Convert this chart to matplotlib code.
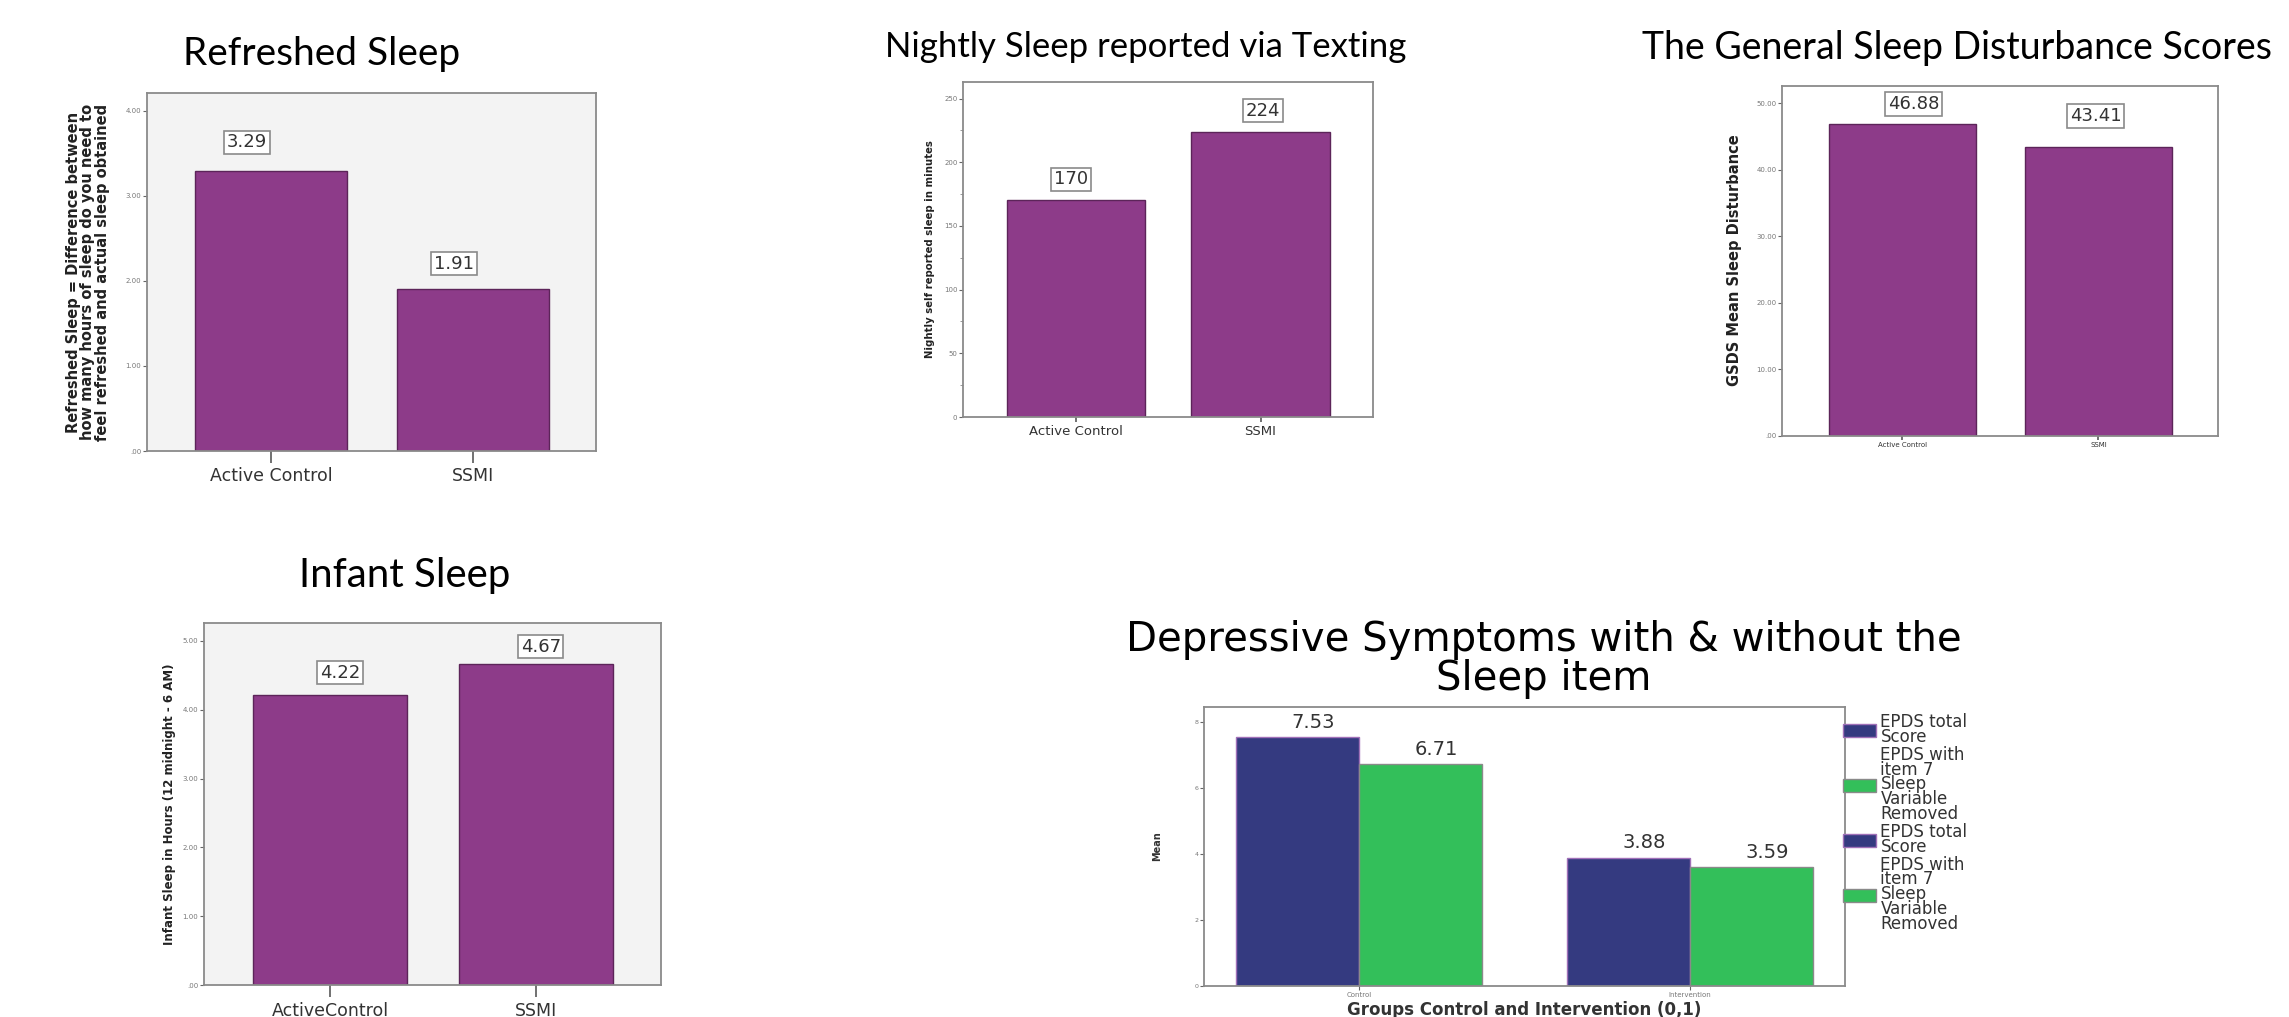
import numpy as np
import matplotlib
matplotlib.use("Agg")
import matplotlib.pyplot as plt
from matplotlib.patches import Patch

W, H, DPI = 2289, 1017, 100

# group means per outcome
groups = ["Active Control", "SSMI"]
infant_groups = ["ActiveControl", "SSMI"]
refreshed_sleep = [3.29, 1.91]
texted_sleep_min = [170, 224]
gsds_mean = [46.88, 43.41]
infant_sleep_hrs = [4.22, 4.67]

epds_groups = ["Control", "Intervention"]
epds_total = [7.53, 3.88]
epds_no_item7 = [6.71, 3.59]
epds_names = ["EPDS total\nScore", "EPDS with\nitem 7\nSleep\nVariable\nRemoved"]

PURPLE = "#8d3b89"
PURPLE_EDGE = "#5c2459"
NAVY = "#343a80"
GREEN = "#33bf5a"
FRAME = "#8a8a8a"
PANEL = "#f3f3f3"
TITLE_FONT = ["Lato", "DejaVu Sans"]

fig = plt.figure(figsize=(W / DPI, H / DPI), dpi=DPI)


def axes_px(x0, y0, x1, y1):
    # pixel box measured from the top-left corner
    return fig.add_axes([x0 / W, 1 - y1 / H, (x1 - x0) / W, (y1 - y0) / H])


def text_px(x, y, s, **kw):
    return fig.text(x / W, 1 - y / H, s, **kw)


def spss_fmt(t):
    s = f"{t:.2f}"
    return s[1:] if s.startswith("0") else s


def frame(ax, bg):
    ax.set_facecolor(bg)
    for sp in ax.spines.values():
        sp.set_color(FRAME)
        sp.set_linewidth(1.3)


def purple_bars(ax, cats, vals, top, yticks, ytick_fmt, val_fmt, bg,
                xfs, xlen, xpad, offsets):
    frame(ax, bg)
    x = np.arange(len(cats))
    ax.bar(x, vals, width=0.75, color=PURPLE, edgecolor=PURPLE_EDGE, linewidth=1)
    ax.set_xlim(-0.614, 1.61)
    ax.set_ylim(0, top)
    ax.set_yticks(yticks)
    ax.set_yticklabels([ytick_fmt(t) for t in yticks])
    ax.set_xticks(x)
    ax.set_xticklabels(cats)
    ax.tick_params(axis="y", length=3, width=0.8, color="#666",
                   labelcolor="#777", labelsize=5, pad=1)
    ax.tick_params(axis="x", length=xlen, width=1.3, color="#666",
                   labelcolor="#333", labelsize=xfs, pad=xpad)
    for xi, v, (dx, dy) in zip(x, vals, offsets):
        ax.annotate(val_fmt.format(v), xy=(xi, v), xytext=(dx, dy),
                    textcoords="offset pixels", ha="center", va="center",
                    fontsize=13, color="#333",
                    bbox=dict(boxstyle="square,pad=0.15", fc="white",
                              ec=FRAME, lw=1.2))


# Refreshed sleep
ax1 = axes_px(147, 93, 596, 451)
purple_bars(ax1, groups, refreshed_sleep, 4.21, [0, 1, 2, 3, 4], spss_fmt,
            "{:.2f}", PANEL, 12.5, 8.6, 3, [(-24, 29), (-19, 25)])
text_px(322, 54, "Refreshed Sleep", ha="center", va="center",
        fontsize=28, family=TITLE_FONT)
text_px(88, 272, "Refreshed Sleep = Difference between\n"
        "how many hours of sleep do you need to\n"
        "feel refreshed and actual sleep obtained",
        rotation=90, ha="center", va="center", multialignment="center",
        fontsize=10.5, fontweight="bold", linespacing=0.95, color="#222")

# Nightly sleep by text message
ax2 = axes_px(963, 82, 1373, 417)
purple_bars(ax2, groups, texted_sleep_min, 263, list(range(0, 251, 50)),
            lambda t: str(int(t)), "{:.0f}", "white", 9.5, 3.6, 2.5,
            [(-5, 21), (2, 21)])
ax2.set_yticks(list(range(25, 251, 50)), minor=True)
ax2.tick_params(axis="y", which="minor", length=2, width=0.6, color="#888")
text_px(1146, 47, "Nightly Sleep reported via Texting", ha="center",
        va="center", fontsize=25, family=TITLE_FONT)
text_px(930, 249, "Nightly self reported sleep in minutes", rotation=90,
        ha="center", va="center", fontsize=7.3, fontweight="bold", color="#222")

# GSDS
ax3 = axes_px(1782, 86, 2218, 436)
purple_bars(ax3, groups, gsds_mean, 52.6, list(range(0, 51, 10)), spss_fmt,
            "{:.2f}", "white", 5, 3, 1.5, [(11, 20), (-3, 31)])
text_px(1642, 48, "The General Sleep Disturbance Scores", ha="left",
        va="center", fontsize=27, family=TITLE_FONT)
text_px(1735, 260, "GSDS Mean Sleep Disturbance", rotation=90, ha="center",
        va="center", fontsize=10.5, fontweight="bold", color="#222")

# Infant sleep
ax4 = axes_px(204, 623, 661, 985)
purple_bars(ax4, infant_groups, infant_sleep_hrs, 5.26, [0, 1, 2, 3, 4, 5],
            spss_fmt, "{:.2f}", PANEL, 12.5, 8.6, 3.6, [(10, 22), (5, 17)])
text_px(405, 576, "Infant Sleep", ha="center", va="center", fontsize=29,
        family=TITLE_FONT)
text_px(170, 804, "Infant Sleep in Hours (12 midnight - 6 AM)", rotation=90,
        ha="center", va="center", fontsize=8.5, fontweight="bold", color="#222")

# EPDS with and without the sleep item
ax5 = axes_px(1204, 707, 1845, 986)
frame(ax5, "white")
x = np.arange(len(epds_groups))
bw = 0.372
b1 = ax5.bar(x - bw / 2, epds_total, bw, color=NAVY, edgecolor="#a070b8",
             linewidth=1)
b2 = ax5.bar(x + bw / 2, epds_no_item7, bw, color=GREEN, edgecolor=FRAME,
             linewidth=1)
ax5.set_xlim(-0.468, 1.468)
ax5.set_ylim(0, 8.45)
ax5.set_yticks([0, 2, 4, 6, 8])
ax5.set_xticks(x)
ax5.set_xticklabels(epds_groups)
ax5.tick_params(axis="y", length=3, width=0.8, color="#666",
                labelcolor="#777", labelsize=4.5, pad=1)
ax5.tick_params(axis="x", length=3, width=0.8, color="#666",
                labelcolor="#777", labelsize=5, pad=1)
for bars, vals in ((b1, epds_total), (b2, epds_no_item7)):
    for r, v in zip(bars, vals):
        ax5.annotate(f"{v:.2f}", xy=(r.get_x() + r.get_width() / 2, v),
                     xytext=(16, 15), textcoords="offset pixels",
                     ha="center", va="center", fontsize=14, color="#333")
text_px(1524, 1010, "Groups Control and Intervention (0,1)", ha="center",
        va="center", fontsize=12, fontweight="bold", color="#333")
text_px(1157, 846, "Mean", rotation=90, ha="center", va="center",
        fontsize=7, fontweight="bold", color="#333")
text_px(1544, 640, "Depressive Symptoms with & without the", ha="center",
        va="center", fontsize=29)
text_px(1544, 679, "Sleep item", ha="center", va="center", fontsize=29)

handles = [Patch(fc=NAVY, ec="#a070b8"), Patch(fc=GREEN, ec=FRAME)] * 2
leg = fig.legend(handles, epds_names * 2, loc="upper left",
                 bbox_to_anchor=(1843 / W, 1 - 713 / H), frameon=False,
                 fontsize=12, handlelength=2.0, handleheight=0.8,
                 handletextpad=0.25, labelspacing=0.0, borderpad=0,
                 borderaxespad=0)
for t in leg.get_texts():
    t.set_linespacing(0.77)
    t.set_color("#333")

fig.savefig("out.png", dpi=DPI)
